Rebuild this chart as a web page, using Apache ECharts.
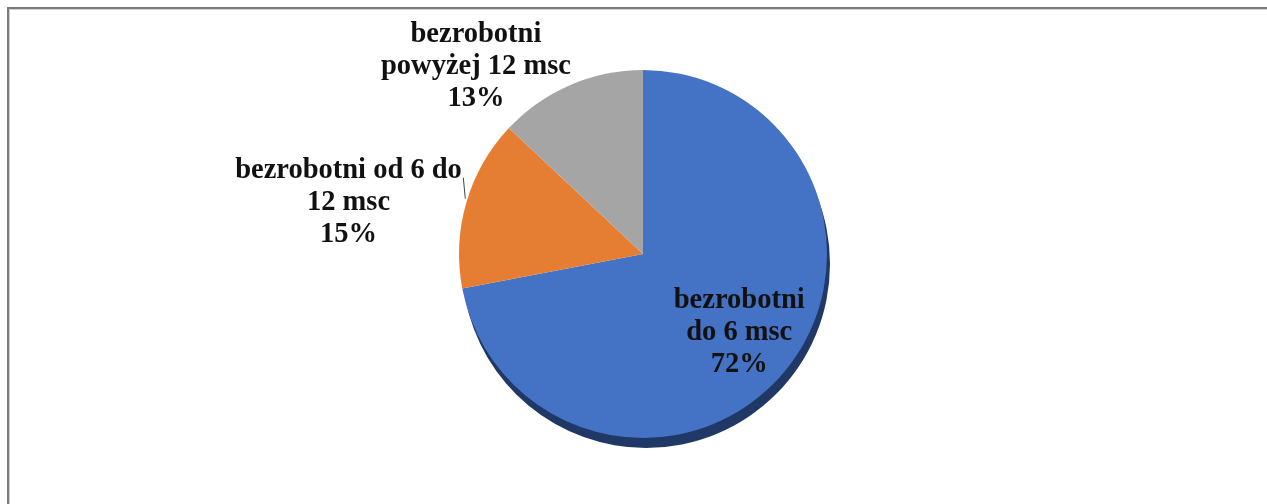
<!DOCTYPE html>
<html>
<head>
<meta charset="utf-8">
<script src="https://cdn.jsdelivr.net/npm/echarts@6/dist/echarts.min.js"></script>
<style>
  html, body { margin: 0; padding: 0; background: #ffffff; overflow: hidden; }
  #frame { position: absolute; left: 7px; top: 7px; width: 2000px; height: 1000px;
           border: 2px solid #7b7b7b; box-shadow: inset 1px 1px 0 #d0d0d0; }
  #chart { position: absolute; left: 0; top: 0; width: 1267px; height: 504px; }
</style>
</head>
<body>
<div id="frame"></div>
<div id="chart"></div>
<script>
// Data
const categories = ['bezrobotni do 6 msc', 'bezrobotni od 6 do 12 msc', 'bezrobotni powyżej 12 msc'];
const labelLines = [
  ['bezrobotni', 'do 6 msc'],
  ['bezrobotni od 6 do', '12 msc'],
  ['bezrobotni', 'powyżej 12 msc']
];
const values = [72, 15, 13];
const colors = ['#4472c4', '#e57e33', '#a5a5a5'];

const chart = echarts.init(document.getElementById('chart'), null, { renderer: 'canvas' });

const total = values.reduce((a, b) => a + b, 0);
const labelWidths = [150, 234, 194];

const seriesData = values.map((v, i) => {
  const item = {
    name: categories[i],
    value: v,
    itemStyle: { color: colors[i] }
  };
  if (i === 0) {
    item.itemStyle.shadowColor = '#1f3866';
    item.itemStyle.shadowOffsetX = 3;
    item.itemStyle.shadowOffsetY = 10;
    item.itemStyle.shadowBlur = 0;
    item.label = { position: 'inside' };
    item.labelLine = { show: false };
  } else if (i === 1) {
    item.label = { position: 'outside' };
    item.labelLine = { show: true, length: 5, length2: 0, lineStyle: { color: '#444', width: 1 } };
  } else {
    item.label = { position: 'outside' };
    item.labelLine = { show: false, length: 0, length2: 0 };
  }
  return item;
});

const labelAdjust = [
  { dx: 23, dy: 18 },
  { dx: 9, dy: 1 },
  { dx: 8, dy: -18 }
];

chart.setOption({
  animation: false,
  series: [{
    type: 'pie',
    center: [643, 254],
    radius: 184,
    startAngle: 90,
    clockwise: true,
    avoidLabelOverlap: false,
    data: seriesData,
    label: {
      show: true,
      formatter: function (p) {
        const i = p.dataIndex;
        const pct = Math.round(p.value / total * 100) + '%';
        const lines = labelLines[i].concat([pct]);
        return lines.map(l => '{t' + i + '|' + l + '}').join('\n');
      },
      rich: {
        t0: { width: labelWidths[0], align: 'center', fontFamily: 'Liberation Serif', fontWeight: 'bold', fontSize: 28.5, lineHeight: 32, color: '#111' },
        t1: { width: labelWidths[1], align: 'center', fontFamily: 'Liberation Serif', fontWeight: 'bold', fontSize: 28.5, lineHeight: 32, color: '#111' },
        t2: { width: labelWidths[2], align: 'center', fontFamily: 'Liberation Serif', fontWeight: 'bold', fontSize: 28.5, lineHeight: 32, color: '#111' }
      }
    },
    labelLayout: function (params) {
      const i = params.dataIndex;
      const res = { dx: labelAdjust[i].dx, dy: labelAdjust[i].dy };
      if (i === 1 && params.labelLinePoints) {
        const p0 = params.labelLinePoints[0];
        res.labelLinePoints = [[p0[0] - 1, p0[1] - 4], [p0[0] - 3, p0[1] - 25]];
      }
      return res;
    }
  }]
});
</script>
</body>
</html>
